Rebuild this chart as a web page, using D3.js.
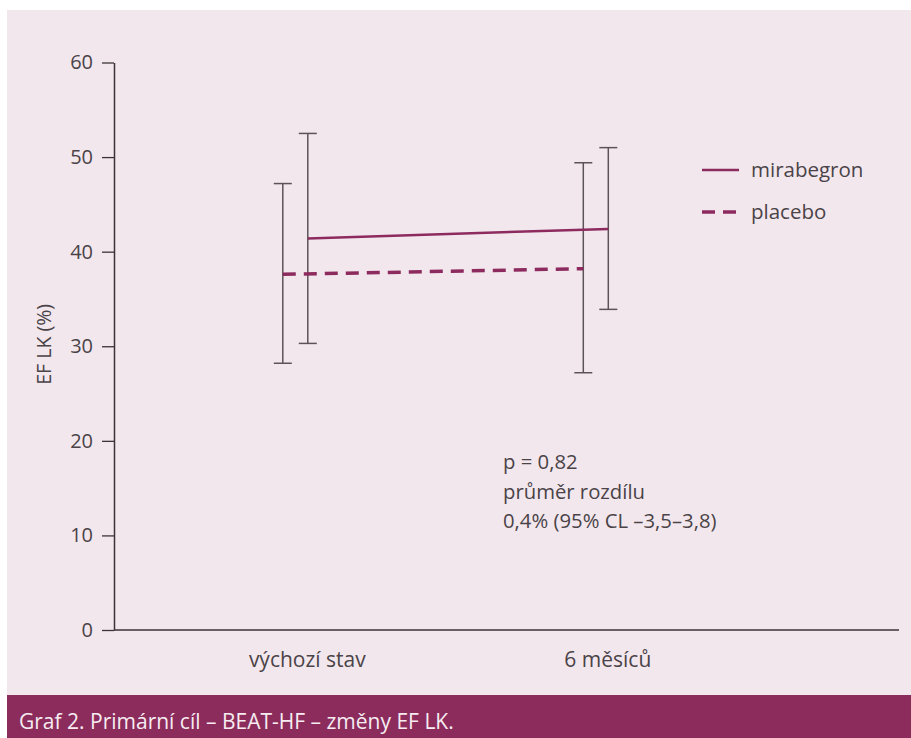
<!DOCTYPE html>
<html lang="cs">

<head>
    <meta charset="UTF-8">
    <title>Graf 2. Primární cíl – BEAT-HF – změny EF LK.</title>
    <script src="https://d3js.org/d3.v7.min.js"></script>
    <style>
        body {
            margin: 0;
            background: #ffffff;
        }

        svg text {
            font-family: "Open Sans", "Noto Sans", sans-serif;
            fill: #4a4347;
        }
    </style>
</head>

<body>

    <script>
        // Data
        var categories = ["výchozí stav", "6 měsíců"];
        var seriesNames = ["mirabegron", "placebo"];
        var yTicks = [0, 10, 20, 30, 40, 50, 60];

        var mirabegronMean = [41.4, 42.4];
        var mirabegronLow = [30.3, 33.9];
        var mirabegronHigh = [52.5, 51.0];

        var placeboMean = [37.6, 38.2];
        var placeboLow = [28.2, 27.2];
        var placeboHigh = [47.2, 49.4];

        var annotation = ["p = 0,82", "průměr rozdílu", "0,4% (95% CL –3,5–3,8)"];
        var caption = "Graf 2. Primární cíl – BEAT-HF – změny EF LK.";

        var W = 911, H = 738;
        var lineColor = "#8d2b5f";
        var barColor = "#5b5358";
        var axisColor = "#3b3337";

        var svg = d3.select("body")
            .append("svg")
            .attr("width", W)
            .attr("height", H);

        // Panel background and caption band
        svg.append("rect")
            .attr("x", 7).attr("y", 10)
            .attr("width", W - 7).attr("height", 685)
            .attr("fill", "#f3e7ee");

        svg.append("rect")
            .attr("x", 7).attr("y", 695)
            .attr("width", W - 7).attr("height", H - 695)
            .attr("fill", "#8b2c5c");

        svg.append("text")
            .attr("x", 19)
            .attr("y", 729)
            .style("font-size", "21px")
            .style("fill", "#f6ecf1")
            .text(caption);

        // Scales
        var plotLeft = 114, plotRight = 899;
        var y = d3.scaleLinear().domain([0, 60]).range([630, 62.5]);
        var x = d3.scalePoint().domain(categories).range([295.3, 595.8]);
        var offset = d3.scaleBand().domain(["placebo", "mirabegron"]).range([-25, 25]);

        function xs(name, i) {
            return x(categories[i]) + offset(name) + offset.bandwidth() / 2;
        }

        // Y axis
        var yAxis = svg.append("g")
            .attr("transform", "translate(" + plotLeft + ",0)")
            .call(d3.axisLeft(y).tickValues(yTicks).tickSize(12).tickSizeOuter(0).tickPadding(9));

        yAxis.select(".domain").attr("stroke", axisColor).attr("stroke-width", 1.5);
        yAxis.selectAll(".tick line").attr("stroke", axisColor).attr("stroke-width", 1.3);
        yAxis.selectAll(".tick text")
            .style("font-size", "20px")
            .style("font-family", "\"Open Sans\", sans-serif")
            .style("fill", "#4a4347");

        // X axis line
        svg.append("line")
            .attr("x1", plotLeft).attr("x2", plotRight)
            .attr("y1", y(0)).attr("y2", y(0))
            .attr("stroke", axisColor)
            .attr("stroke-width", 1.5);

        // Category labels
        svg.selectAll(".cat")
            .data(categories)
            .enter().append("text")
            .attr("class", "cat")
            .attr("x", d => x(d) + 12)
            .attr("y", 667)
            .attr("text-anchor", "middle")
            .style("font-size", "21px")
            .text(d => d);

        // Y axis title
        svg.append("text")
            .attr("transform", "translate(51," + y(30.2) + ") rotate(-90)")
            .attr("text-anchor", "middle")
            .style("font-size", "19.5px")
            .text("EF LK (%)");

        var series = [
            { name: "placebo", mean: placeboMean, low: placeboLow, high: placeboHigh, width: 3.5, dash: "13,8" },
            { name: "mirabegron", mean: mirabegronMean, low: mirabegronLow, high: mirabegronHigh, width: 2.5, dash: null }
        ];

        // Error bars
        series.forEach(s => {
            var pts = categories.map((c, i) => ({ x: xs(s.name, i), low: s.low[i], high: s.high[i] }));
            var g = svg.append("g").attr("stroke", barColor).attr("stroke-width", 1.5);

            g.selectAll(".stem").data(pts).enter().append("line")
                .attr("x1", d => d.x).attr("x2", d => d.x)
                .attr("y1", d => y(d.high)).attr("y2", d => y(d.low));

            g.selectAll(".capTop").data(pts).enter().append("line")
                .attr("x1", d => d.x - 9).attr("x2", d => d.x + 9)
                .attr("y1", d => y(d.high)).attr("y2", d => y(d.high));

            g.selectAll(".capBottom").data(pts).enter().append("line")
                .attr("x1", d => d.x - 9).attr("x2", d => d.x + 9)
                .attr("y1", d => y(d.low)).attr("y2", d => y(d.low));
        });

        // Mean lines
        var line = d3.line()
            .x(d => d.x)
            .y(d => y(d.v));

        series.forEach(s => {
            svg.append("path")
                .datum(categories.map((c, i) => ({ x: xs(s.name, i), v: s.mean[i] })))
                .attr("fill", "none")
                .attr("stroke", lineColor)
                .attr("stroke-width", s.width)
                .attr("stroke-dasharray", s.dash)
                .attr("d", line);
        });

        // Legend
        var legend = svg.selectAll(".legend")
            .data(seriesNames)
            .enter().append("g")
            .attr("class", "legend")
            .attr("transform", (d, i) => "translate(702," + (170 + i * 42) + ")");

        legend.append("line")
            .attr("x1", 0).attr("x2", d => d === "placebo" ? 35 : 37)
            .attr("y1", 0).attr("y2", 0)
            .attr("stroke", lineColor)
            .attr("stroke-width", d => d === "placebo" ? 3.5 : 2.5)
            .attr("stroke-dasharray", d => d === "placebo" ? "13,8" : null);

        legend.append("text")
            .attr("x", 49)
            .attr("y", 0)
            .attr("dy", "0.35em")
            .style("font-size", "20.5px")
            .text(d => d);

        // Annotation
        svg.selectAll(".note")
            .data(annotation)
            .enter().append("text")
            .attr("class", "note")
            .attr("x", 503)
            .attr("y", (d, i) => 469 + i * 29.5)
            .style("font-size", "20.3px")
            .text(d => d);
    </script>

</body>

</html>
